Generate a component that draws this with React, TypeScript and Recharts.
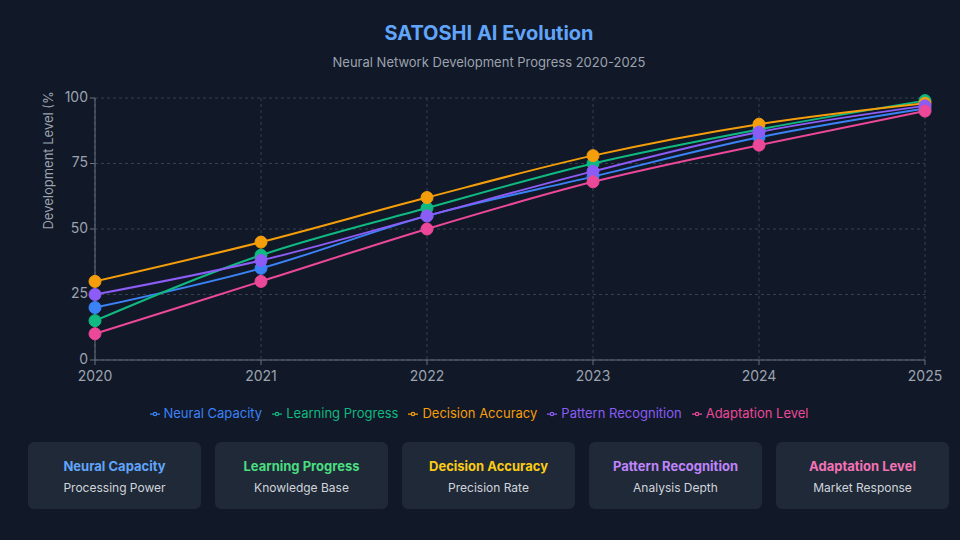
import {
  LineChart,
  Line,
  XAxis,
  YAxis,
  CartesianGrid,
  Legend,
} from "recharts";

const years = ["2020", "2021", "2022", "2023", "2024", "2025"];
const neuralCapacity = [20, 35, 55, 70, 85, 96];
const learningProgress = [15, 40, 58, 75, 88, 99];
const decisionAccuracy = [30, 45, 62, 78, 90, 98];
const patternRecognition = [25, 38, 55, 72, 87, 97];
const adaptationLevel = [10, 30, 50, 68, 82, 95];
const yTicks = [0, 25, 50, 75, 100];

const series = [
  { key: "neural", name: "Neural Capacity", color: "#3b82f6", values: neuralCapacity },
  { key: "learning", name: "Learning Progress", color: "#10b981", values: learningProgress },
  { key: "decision", name: "Decision Accuracy", color: "#f59e0b", values: decisionAccuracy },
  { key: "pattern", name: "Pattern Recognition", color: "#8b5cf6", values: patternRecognition },
  { key: "adaptation", name: "Adaptation Level", color: "#ec4899", values: adaptationLevel },
];

const cards = [
  { title: "Neural Capacity", sub: "Processing Power", color: "#60a5fa" },
  { title: "Learning Progress", sub: "Knowledge Base", color: "#4ade80" },
  { title: "Decision Accuracy", sub: "Precision Rate", color: "#facc15" },
  { title: "Pattern Recognition", sub: "Analysis Depth", color: "#c084fc" },
  { title: "Adaptation Level", sub: "Market Response", color: "#f472b6" },
];

const data = years.map((year, i) => {
  const row: any = { year };
  series.forEach((s) => {
    row[s.key] = s.values[i];
  });
  return row;
});

const FONT = "Inter, 'Noto Sans', sans-serif";
const AXIS = "#6b7280";
const TICK = "#9ca3af";

// keep legend in series order (recharts sorts by name otherwise)
const legendOrder = (item: any) =>
  series.findIndex((s) => s.name === item.value);

// y label is clipped at the top in the original, keep that
const YLabel = () => (
  <g>
    <defs>
      <clipPath id="ylabel-clip">
        <rect x={30} y={92} width={40} height={200} />
      </clipPath>
    </defs>
    <g clipPath="url(#ylabel-clip)">
      <text
        x={0}
        y={0}
        transform="translate(53, 158) rotate(-90)"
        textAnchor="middle"
        fontSize={13}
        fill={TICK}
        fontFamily={FONT}
      >
        Development Level (%)
      </text>
    </g>
  </g>
);

export default function App() {
  return (
    <div
      style={{
        position: "absolute",
        left: 0,
        top: 0,
        width: 960,
        height: 540,
        background: "#111827",
        fontFamily: FONT,
        overflow: "hidden",
      }}
    >
      <div
        style={{
          position: "absolute",
          top: 21,
          width: 960,
          textAlign: "center",
          paddingLeft: 18,
          boxSizing: "border-box",
          color: "#60a5fa",
          fontWeight: 700,
          fontSize: 20,
        }}
      >
        SATOSHI AI Evolution
      </div>
      <div
        style={{
          position: "absolute",
          top: 54,
          width: 960,
          textAlign: "center",
          paddingLeft: 18,
          boxSizing: "border-box",
          color: "#9ca3af",
          fontSize: 13,
        }}
      >
        Neural Network Development Progress 2020-2025
      </div>

      <div style={{ position: "absolute", left: 0, top: 0 }}>
        <LineChart
          width={960}
          height={437}
          data={data}
          margin={{ top: 98, right: 35, left: 0, bottom: 2 }}
        >
          <CartesianGrid stroke="#374151" strokeDasharray="3 3" />
          <XAxis
            dataKey="year"
            stroke={AXIS}
            tick={{ fill: TICK, fontSize: 14, dy: 4 }}
            tickSize={5}
            height={45}
            interval={0}
          />
          <YAxis
            domain={[0, 100]}
            ticks={yTicks}
            stroke={AXIS}
            tick={{ fill: TICK, fontSize: 14, dy: -1 }}
            tickSize={5}
            width={95}
            label={{ content: <YLabel /> }}
          />
          <Legend
            verticalAlign="bottom"
            height={30}
            iconSize={10}
            itemSorter={legendOrder}
            wrapperStyle={{ fontSize: 13, fontFamily: FONT, left: 4, width: 960 }}
          />
          {series.map((s) => (
            <Line
              key={s.key}
              type="monotone"
              dataKey={s.key}
              name={s.name}
              stroke={s.color}
              strokeWidth={2}
              legendType="line"
              dot={{ r: 6, fill: s.color, stroke: s.color, strokeWidth: 1 }}
              isAnimationActive={false}
            />
          ))}
        </LineChart>
      </div>

      <div
        style={{
          position: "absolute",
          top: 442,
          left: 28,
          display: "flex",
          gap: 14,
        }}
      >
        {cards.map((c) => (
          <div
            key={c.title}
            style={{
              width: 173,
              height: 67,
              background: "#1f2937",
              borderRadius: 6,
              textAlign: "center",
              boxSizing: "border-box",
              paddingTop: 16,
            }}
          >
            <div style={{ color: c.color, fontWeight: 700, fontSize: 13 }}>
              {c.title}
            </div>
            <div style={{ color: "#d1d5db", fontSize: 12, marginTop: 6 }}>
              {c.sub}
            </div>
          </div>
        ))}
      </div>
    </div>
  );
}
